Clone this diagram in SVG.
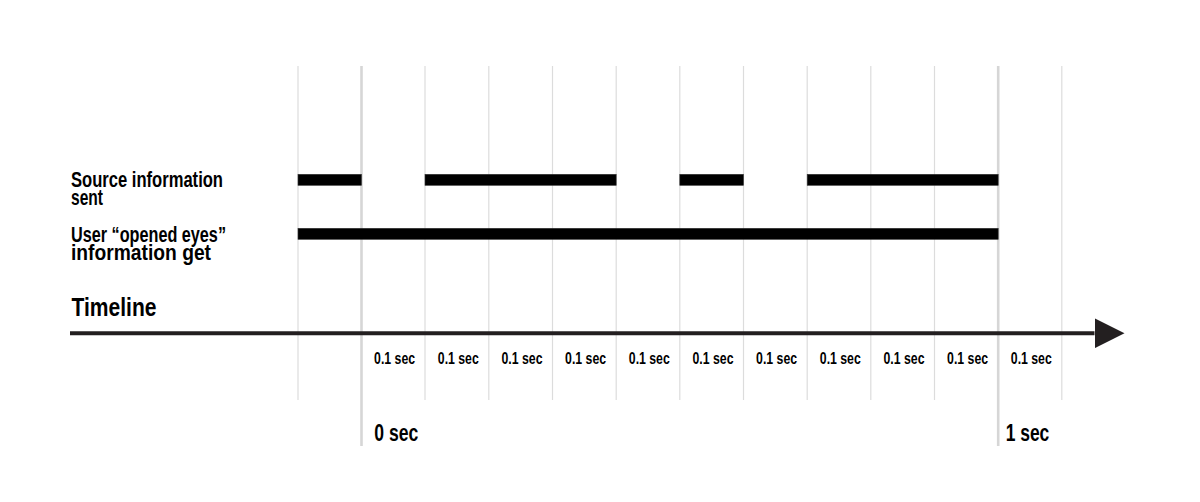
<svg xmlns="http://www.w3.org/2000/svg" width="1200" height="502" viewBox="0 0 1200 502">
<style>
.grid{stroke:#dcdcdc;stroke-width:1.2}
.major{stroke:#d6d6d6;stroke-width:2.6}
.bar{fill:#000;stroke:#333;stroke-width:0.6}
text{font-family:"Liberation Sans",Arial,sans-serif;font-weight:bold;fill:#000}
.lbl{font-size:22px}
.tick{font-size:16px;text-anchor:middle}
.big{font-size:23px}
</style>
<defs>
<marker id="arrow" markerUnits="userSpaceOnUse" markerWidth="30" markerHeight="30" refX="0" refY="15" orient="auto">
<path d="M0,0 L30,15 L0,30 Z" fill="#231f20"/>
</marker>
</defs>
<rect width="1200" height="502" fill="#fff"/>
<g id="grid">
<line class="grid" x1="298" y1="66" x2="298" y2="400"/>
<line class="major" x1="361.5" y1="66" x2="361.5" y2="446"/>
<line class="grid" x1="425" y1="66" x2="425" y2="400"/>
<line class="grid" x1="488.8" y1="66" x2="488.8" y2="400"/>
<line class="grid" x1="552.5" y1="66" x2="552.5" y2="400"/>
<line class="grid" x1="616.2" y1="66" x2="616.2" y2="400"/>
<line class="grid" x1="679.8" y1="66" x2="679.8" y2="400"/>
<line class="grid" x1="743.5" y1="66" x2="743.5" y2="400"/>
<line class="grid" x1="807.2" y1="66" x2="807.2" y2="400"/>
<line class="grid" x1="870.8" y1="66" x2="870.8" y2="400"/>
<line class="grid" x1="934.5" y1="66" x2="934.5" y2="400"/>
<line class="major" x1="998.2" y1="66" x2="998.2" y2="446"/>
<line class="grid" x1="1061.8" y1="66" x2="1061.8" y2="400"/>
</g>
<g id="source-bars">
<rect class="bar" x="298" y="174.3" width="63.5" height="11"/>
<rect class="bar" x="425" y="174.3" width="191.2" height="11"/>
<rect class="bar" x="679.8" y="174.3" width="63.7" height="11"/>
<rect class="bar" x="807.2" y="174.3" width="191" height="11"/>
</g>
<g id="user-bar">
<rect class="bar" x="298" y="228.3" width="700.2" height="11"/>
</g>
<g id="labels">
<text class="lbl" x="71" y="186.5" textLength="152" lengthAdjust="spacingAndGlyphs">Source information</text>
<text class="lbl" x="71" y="205" textLength="32" lengthAdjust="spacingAndGlyphs">sent</text>
<text class="lbl" x="71" y="241.5" textLength="155" lengthAdjust="spacingAndGlyphs">User “opened eyes”</text>
<text class="lbl" x="71" y="259.5" textLength="140" lengthAdjust="spacingAndGlyphs">information get</text>
<text x="71.5" y="316" font-size="25" textLength="85" lengthAdjust="spacingAndGlyphs">Timeline</text>
</g>
<g id="connectors">
<line x1="70" y1="333.3" x2="1094.5" y2="333.3" stroke="#231f20" stroke-width="4" marker-end="url(#arrow)"/>
</g>
<g id="ticks">
<text class="tick" x="394.6" y="364.3" textLength="41" lengthAdjust="spacingAndGlyphs">0.1 sec</text>
<text class="tick" x="458.3" y="364.3" textLength="41" lengthAdjust="spacingAndGlyphs">0.1 sec</text>
<text class="tick" x="522" y="364.3" textLength="41" lengthAdjust="spacingAndGlyphs">0.1 sec</text>
<text class="tick" x="585.6" y="364.3" textLength="41" lengthAdjust="spacingAndGlyphs">0.1 sec</text>
<text class="tick" x="649.3" y="364.3" textLength="41" lengthAdjust="spacingAndGlyphs">0.1 sec</text>
<text class="tick" x="713" y="364.3" textLength="41" lengthAdjust="spacingAndGlyphs">0.1 sec</text>
<text class="tick" x="776.6" y="364.3" textLength="41" lengthAdjust="spacingAndGlyphs">0.1 sec</text>
<text class="tick" x="840.3" y="364.3" textLength="41" lengthAdjust="spacingAndGlyphs">0.1 sec</text>
<text class="tick" x="904" y="364.3" textLength="41" lengthAdjust="spacingAndGlyphs">0.1 sec</text>
<text class="tick" x="967.6" y="364.3" textLength="41" lengthAdjust="spacingAndGlyphs">0.1 sec</text>
<text class="tick" x="1031.3" y="364.3" textLength="41" lengthAdjust="spacingAndGlyphs">0.1 sec</text>
</g>
<g id="time-marks">
<text class="big" x="374.3" y="441" textLength="44" lengthAdjust="spacingAndGlyphs">0 sec</text>
<text class="big" x="1005.7" y="441" textLength="43.6" lengthAdjust="spacingAndGlyphs">1 sec</text>
</g>
</svg>
